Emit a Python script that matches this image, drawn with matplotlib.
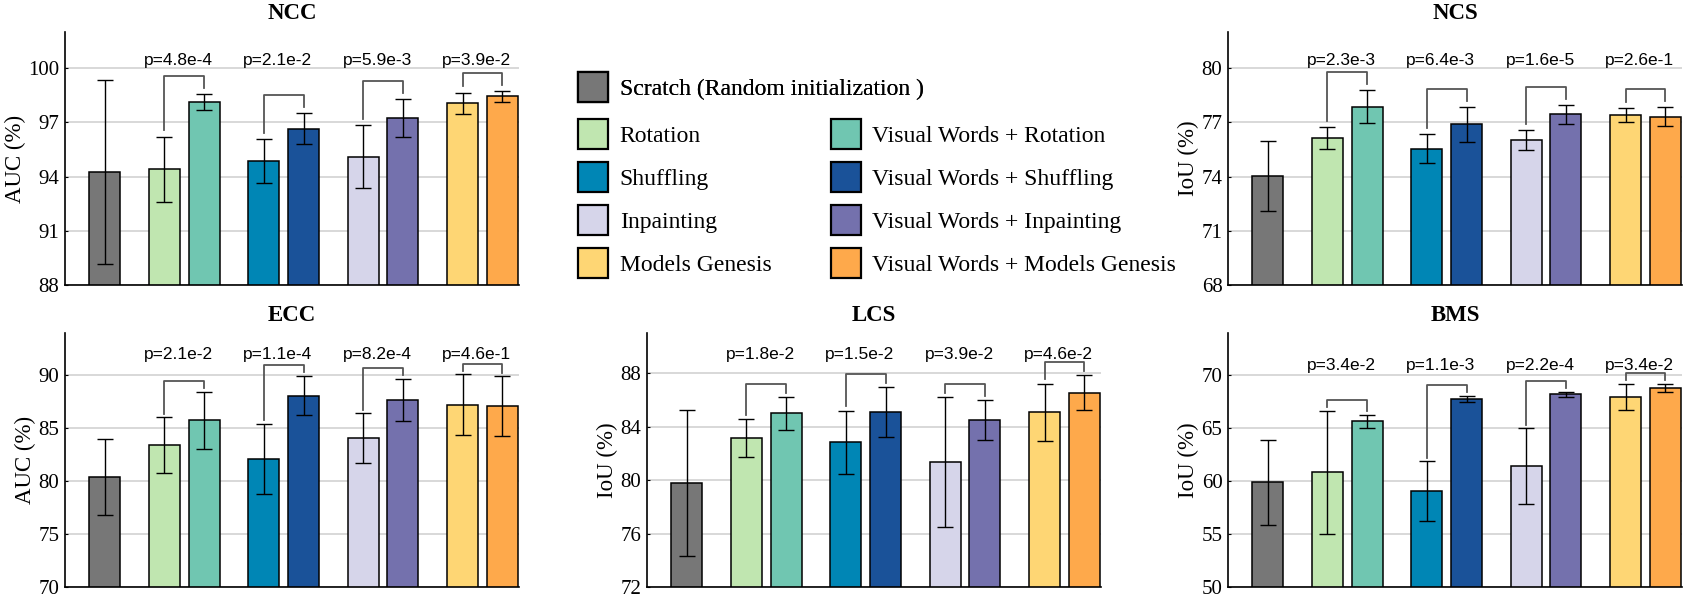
import matplotlib
matplotlib.use("Agg")
import matplotlib.pyplot as plt
from matplotlib.patches import Patch

plt.rcParams['font.family'] = ['Liberation Serif', 'DejaVu Serif']

metodos = ['Scratch (Random initialization )',
           'Rotation', 'Visual Words + Rotation',
           'Shuffling', 'Visual Words + Shuffling',
           'Inpainting', 'Visual Words + Inpainting',
           'Models Genesis', 'Visual Words + Models Genesis']
cores = ['#777777', '#c0e6b0', '#70c6b1', '#0086b5', '#1a5299',
         '#d6d5ea', '#7471ad', '#fed674', '#fea94b']

ncc_media = [94.25, 94.4, 98.12, 94.87, 96.64, 95.11, 97.24, 98.05, 98.44]
ncc_erro = [5.07, 1.8, 0.43, 1.2, 0.86, 1.75, 1.06, 0.6, 0.3]
ncc_p = ['4.8e-4', '2.1e-2', '5.9e-3', '3.9e-2']

ncs_media = [74.03, 76.12, 77.87, 75.53, 76.89, 76.01, 77.44, 77.41, 77.32]
ncs_erro = [1.96, 0.6, 0.9, 0.8, 0.95, 0.55, 0.52, 0.39, 0.51]
ncs_p = ['2.3e-3', '6.4e-3', '1.6e-5', '2.6e-1']

ecc_media = [80.36, 83.38, 85.75, 82.13, 88.08, 84.08, 87.7, 87.2, 87.07]
ecc_erro = [3.58, 2.65, 2.72, 3.3, 1.86, 2.33, 1.98, 2.88, 2.83]
ecc_p = ['2.1e-2', '1.1e-4', '8.2e-4', '4.6e-1']

lcs_media = [79.78, 83.14, 84.98, 82.81, 85.06, 81.35, 84.46, 85.08, 86.53]
lcs_erro = [5.44, 1.41, 1.2, 2.35, 1.87, 4.83, 1.5, 2.14, 1.3]
lcs_p = ['1.8e-2', '1.5e-2', '3.9e-2', '4.6e-2']

bms_media = [59.89, 60.83, 65.65, 59.04, 67.77, 61.4, 68.2, 67.96, 68.81]
bms_erro = [4.03, 5.83, 0.63, 2.84, 0.3, 3.6, 0.25, 1.26, 0.38]
bms_p = ['3.4e-2', '1.1e-3', '2.2e-4', '3.4e-2']

# titulo, rotulo y, dados, limites, ticks, altura do texto p, posicao do eixo (px)
paineis = [
    ('NCC', 'AUC (%)', ncc_media, ncc_erro, ncc_p, (88, 102), [88, 91, 94, 97, 100], 100.4, (65, 32, 519, 285)),
    ('NCS', 'IoU (%)', ncs_media, ncs_erro, ncs_p, (68, 82), [68, 71, 74, 77, 80], 80.4, (1228, 32, 1682, 285)),
    ('ECC', 'AUC (%)', ecc_media, ecc_erro, ecc_p, (70, 94), [70, 75, 80, 85, 90], 91.95, (65, 333, 519, 587)),
    ('LCS', 'IoU (%)', lcs_media, lcs_erro, lcs_p, (72, 91), [72, 76, 80, 84, 88], 89.4, (647, 333, 1101, 587)),
    ('BMS', 'IoU (%)', bms_media, bms_erro, bms_p, (50, 74), [50, 55, 60, 65, 70], 70.95, (1228, 333, 1682, 587)),
]

W, H = 1685, 600
fig = plt.figure(figsize=(W / 100, H / 100), dpi=100)

xs = [0] + [1.5 + 2.5 * g + k for g in range(4) for k in (0, 1)]
largura = 0.78

for titulo, ylab, media, erro, pvals, ylim, yticks, ytexto, (x0, y0, x1, y1) in paineis:
    ax = fig.add_axes([x0 / W, 1 - y1 / H, (x1 - x0) / W, (y1 - y0) / H])
    ax.bar(xs, media, width=largura, color=cores, edgecolor='black', linewidth=1.1, zorder=2)
    ax.errorbar(xs, media, yerr=erro, fmt='none', ecolor='black', elinewidth=1.0,
                capsize=5.5, capthick=1.0, zorder=3)

    for g in range(4):
        i, j = 1 + 2 * g, 2 + 2 * g
        topo_i = media[i] + erro[i]
        topo_j = media[j] + erro[j]
        topo = max(topo_i, topo_j) + 1.0
        ax.plot([xs[i], xs[i], xs[j], xs[j]], [topo_i + 0.35, topo, topo, topo_j + 0.35],
                color='#555555', lw=1.3, zorder=4)
        ax.text((xs[i] + xs[j]) / 2 - 0.15, ytexto, 'p=' + pvals[g], ha='center', va='center',
                fontsize=12.5, family=['Liberation Sans', 'DejaVu Sans'])

    ax.set_xlim(-1, 10.42)
    ax.set_ylim(*ylim)
    ax.set_yticks(yticks)
    ax.set_xticks([])
    ax.yaxis.grid(True, color='#d2d2d2', lw=1.2, zorder=0)
    ax.set_axisbelow(True)
    for lado in ('top', 'right'):
        ax.spines[lado].set_visible(False)
    ax.spines['left'].set_linewidth(1.2)
    ax.spines['bottom'].set_linewidth(1.2)
    ax.tick_params(axis='y', direction='in', length=2, labelsize=15, pad=4)
    ax.set_title(titulo, fontsize=16.5, fontweight='bold', pad=9)
    ax.set_ylabel(ylab, fontsize=16.5, labelpad=2)

alcas = [Patch(facecolor=c, edgecolor='black', linewidth=1.6) for c in cores]
ordem = [1, 3, 5, 7, 2, 4, 6, 8]
estilo_leg = dict(frameon=False, fontsize=17, handlelength=1.27, handleheight=1.58,
                  handletextpad=0.5, borderpad=0, borderaxespad=0)

leg1 = fig.legend([alcas[0]], [metodos[0]], loc='upper left',
                  bbox_to_anchor=(578 / W, 1 - 72 / H), **estilo_leg)
fig.add_artist(leg1)
fig.legend([alcas[k] for k in ordem], [metodos[k] for k in ordem], ncol=2, loc='upper left',
           bbox_to_anchor=(578 / W, 1 - 119 / H), labelspacing=0.55, columnspacing=2.5,
           **estilo_leg)

plt.savefig('out.png', dpi=100)
print('Grafico salvo como out.png')
